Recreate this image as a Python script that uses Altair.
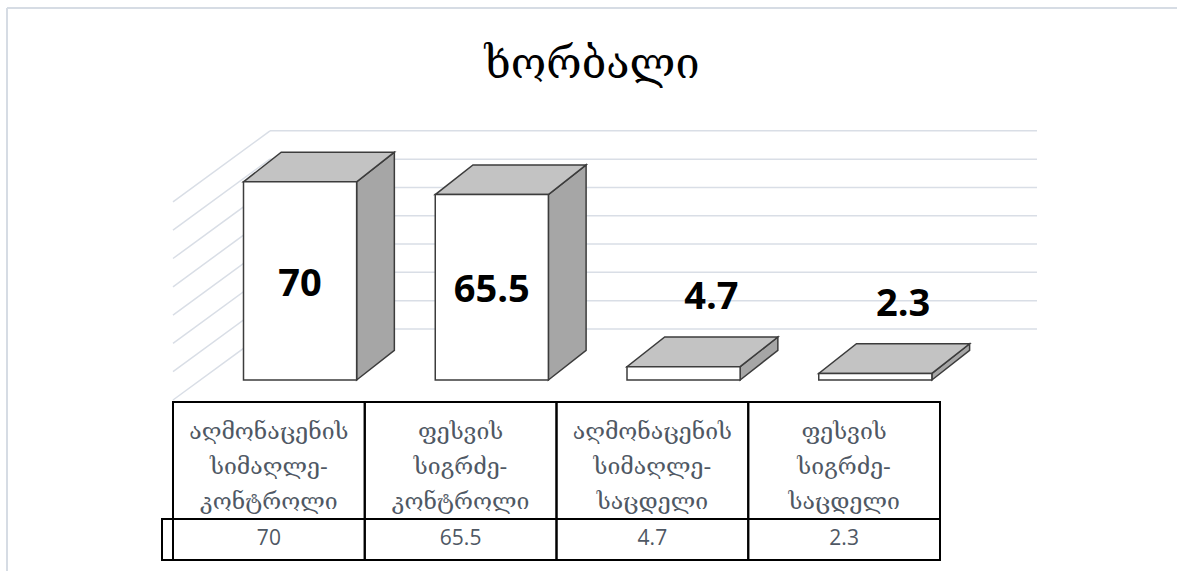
import altair as alt
import pandas as pd

# ---- chart content -------------------------------------------------------
title_text = "ხორბალი"
header_lines = [
    ["აღმონაცენის", "სიმაღლე-", "კონტროლი"],
    ["ფესვის", "სიგრძე-", "კონტროლი"],
    ["აღმონაცენის", "სიმაღლე-", "საცდელი"],
    ["ფესვის", "სიგრძე-", "საცდელი"],
]
values = [70, 65.5, 4.7, 2.3]
value_labels = ["70", "65.5", "4.7", "2.3"]
grid_values = [0, 10, 20, 30, 40, 50, 60, 70]

# ---- oblique 3-D projection (category units / value units) ---------------
DEPTH_X = 0.506      # horizontal shift of the back wall, in category units
DEPTH_Y = 25.1       # vertical shift of the back wall, in value units
BAR_T0, BAR_T1 = 0.282, 0.70    # bar front / back as a fraction of the depth
BAR_DX_RATIO = 0.93  # bars recede slightly steeper than the walls
BAR_W = 0.59         # bar width in category units
BAR_POS = 0.52       # bar centre within its category slot

X_DOMAIN = [-0.9022, 5.2360]
Y_DOMAIN = [-60.42, 141.34]

GRID = "#d9dee6"
EDGE = "#3c3c3c"
TEXT_GRAY = "#4f5864"
GEO_FONT = "DejaVu Serif"

n = len(values)

# back wall and left wall grid
grid_df = pd.DataFrame({"v": grid_values})
grid_df["bx"] = DEPTH_X
grid_df["bx2"] = n + DEPTH_X
grid_df["by"] = grid_df["v"] + DEPTH_Y
grid_df["lx"] = 0.0
grid_df["lx2"] = DEPTH_X
grid_df["ly"] = grid_df["v"]
grid_df["ly2"] = grid_df["v"] + DEPTH_Y

# bar faces (front rectangle, top and side parallelograms)
fronts, tops, sides, labels = [], [], [], []
dx = (BAR_T1 - BAR_T0) * DEPTH_X * BAR_DX_RATIO
dy = (BAR_T1 - BAR_T0) * DEPTH_Y
for i, (v, lab) in enumerate(zip(values, value_labels)):
    xl = i + BAR_POS - BAR_W / 2 + BAR_T0 * DEPTH_X
    xr = xl + BAR_W
    yb = BAR_T0 * DEPTH_Y
    yt = v + yb
    fronts.append({"bar": i, "x": xl, "x2": xr, "y": yb, "y2": yt})
    tops += [
        {"bar": i, "x": xl, "y": yt, "y2": yt},
        {"bar": i, "x": xl + dx, "y": yt, "y2": yt + dy},
        {"bar": i, "x": xr, "y": yt, "y2": yt + dy},
        {"bar": i, "x": xr + dx, "y": yt + dy, "y2": yt + dy},
    ]
    sides += [
        {"bar": i, "x": xr, "y": yb, "y2": yt},
        {"bar": i, "x": xr + dx, "y": yb + dy, "y2": yt + dy},
    ]
    labels.append({
        "label": lab,
        "value": v,
        "cx": xl + BAR_W / 2,
        "cy": yb + v / 2,
        "tx": xl + BAR_W / 2 + dx / 2,
        "ty": yt + dy,
    })
front_df = pd.DataFrame(fronts)
top_df = pd.DataFrame(tops)
side_df = pd.DataFrame(sides)
label_df = pd.DataFrame(labels)
vmax = max(values)

# data table under the plot
table_df = pd.DataFrame({
    "c0": list(range(n)),
    "c1": [i + 1 for i in range(n)],
    "cm": [i + 0.5 for i in range(n)],
    "header": header_lines,
    "val": value_labels,
})

xs = alt.Scale(domain=X_DOMAIN, nice=False, zero=False)
ys = alt.Scale(domain=Y_DOMAIN, nice=False, zero=False)


def X(f):
    return alt.X(f, type="quantitative", scale=xs, axis=None)


def Y(f):
    return alt.Y(f, type="quantitative", scale=ys, axis=None, stack=False)


one = pd.DataFrame({"t": [title_text]})

frame_top = alt.Chart(one).mark_rule(color="#d6dce4", strokeWidth=2).encode(
    x=alt.value(7), x2=alt.value(1177), y=alt.value(8)
)
frame_left = alt.Chart(one).mark_rule(color="#d6dce4", strokeWidth=2).encode(
    x=alt.value(7), y=alt.value(8), y2=alt.value(571)
)

back_grid = alt.Chart(grid_df).mark_rule(color=GRID, strokeWidth=1.5).encode(
    x=X("bx"), x2="bx2", y=Y("by")
)
left_grid = alt.Chart(grid_df).mark_rule(color=GRID, strokeWidth=1.5).encode(
    x=X("lx"), x2="lx2", y=Y("ly"), y2="ly2"
)

side_faces = alt.Chart(side_df).mark_area(
    color="#a6a6a6", stroke=EDGE, strokeWidth=1.5, interpolate="linear",
    opacity=1, orient="vertical"
).encode(x=X("x"), y=Y("y"), y2="y2", detail="bar:N")

top_faces = alt.Chart(top_df).mark_area(
    color="#c3c3c3", stroke=EDGE, strokeWidth=1.5, interpolate="linear",
    opacity=1, orient="vertical"
).encode(x=X("x"), y=Y("y"), y2="y2", detail="bar:N")

front_faces = alt.Chart(front_df).mark_rect(
    color="white", stroke=EDGE, strokeWidth=1.5
).encode(x=X("x"), x2="x2", y=Y("y"), y2="y2")

label_font = dict(font="Open Sans", fontWeight="bold", fontSize=38, color="black")
inside_labels = alt.Chart(label_df).transform_filter(
    alt.datum.value > 0.2 * vmax
).mark_text(baseline="middle", align="center", dy=4, **label_font).encode(
    x=X("cx"), y=Y("cy"), text="label:N"
)
above_labels = alt.Chart(label_df).transform_filter(
    alt.datum.value <= 0.2 * vmax
).mark_text(baseline="middle", align="center", dx=9, dy=-39, **label_font).encode(
    x=X("tx"), y=Y("ty"), text="label:N"
)

header_cells = alt.Chart(table_df).mark_rect(
    fill="white", fillOpacity=0, stroke="black", strokeWidth=2
).encode(x=X("c0"), x2="c1", y=alt.value(402), y2=alt.value(519))
value_cells = alt.Chart(table_df).mark_rect(
    fill="white", fillOpacity=0, stroke="black", strokeWidth=2
).encode(x=X("c0"), x2="c1", y=alt.value(519), y2=alt.value(560))
key_cell = alt.Chart(one).mark_rect(
    fill="white", fillOpacity=0, stroke="black", strokeWidth=2
).encode(x=alt.value(162), x2=alt.value(173), y=alt.value(519), y2=alt.value(560))

# three-line headers: the first line sits at y, the next ones follow below
header_text = alt.Chart(table_df).mark_text(
    font=GEO_FONT, fontSize=23, color=TEXT_GRAY, baseline="middle",
    align="center", lineHeight=35
).encode(x=X("cm"), y=alt.value(432), text="header")
value_text = alt.Chart(table_df).mark_text(
    font="Open Sans", fontSize=21, color=TEXT_GRAY, baseline="middle", align="center"
).encode(x=X("cm"), y=alt.value(539), text="val:N")

title = alt.Chart(one).mark_text(
    font=GEO_FONT, fontSize=43, color="black", baseline="alphabetic", align="center"
).encode(x=alt.value(592), y=alt.value(78), text="t:N")

chart = alt.layer(
    frame_top, frame_left, back_grid, left_grid,
    side_faces, top_faces, front_faces,
    inside_labels, above_labels,
    header_cells, value_cells, key_cell, header_text, value_text, title,
).properties(
    width=1177, height=571,
    autosize=alt.AutoSizeParams(type="none"),
    padding=0,
    background="white",
).configure_view(stroke="transparent")

chart.save("out.html", embed_options={"renderer": "svg", "actions": False})
